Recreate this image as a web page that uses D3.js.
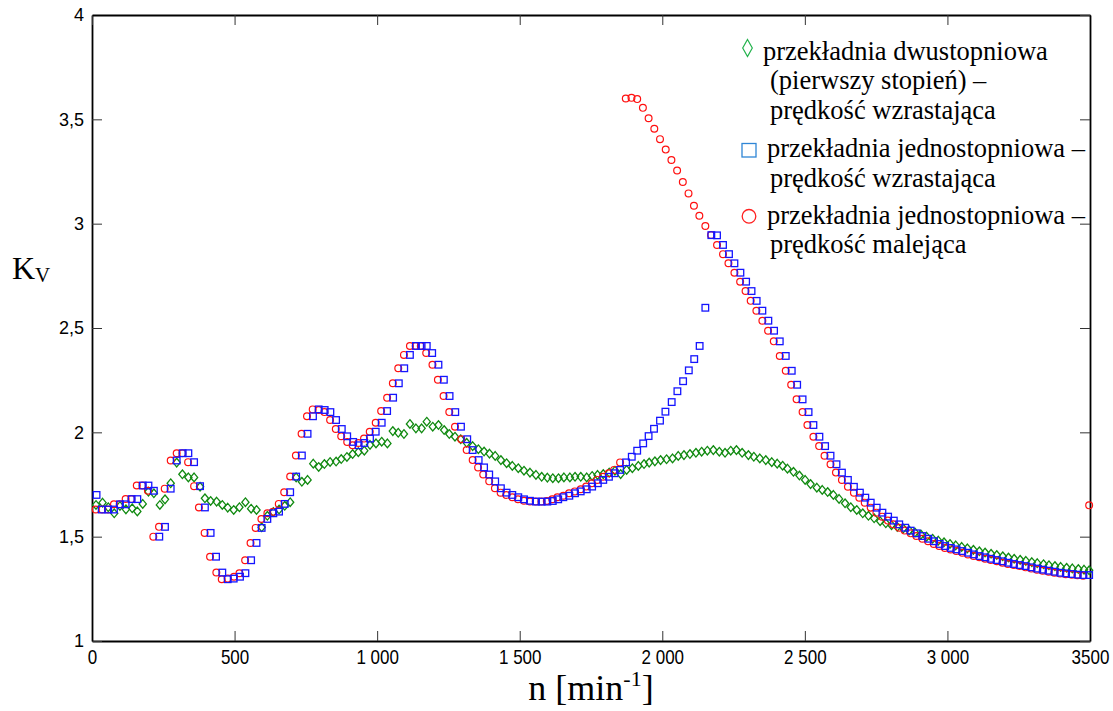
<!DOCTYPE html>
<html>
<head>
<meta charset="utf-8">
<script src="https://cdn.jsdelivr.net/npm/d3@7"></script>
<style>
body { margin: 0; background: #ffffff; }
</style>
</head>
<body>
<svg id="chart" width="1113" height="711"></svg>
<script>
//Data: two-stage gear (first stage), speed increasing
var nGreen = [14,37,57,78,98,119,141,159,178,198,217,238,256,276,297,317,338,358,379,396,
  416,437,457,476,497,517,538,558,577,595,615,636,656,676,695,716,736,756,776,795,
  815,835,856,874,894,914,934,955,975,996,1016,1036,1055,1074,1094,1115,1136,1156,1174,1195,
  1215,1235,1253,1273,1293,1314,1335,1355,1375,1394,1414,1434,1454,1474,1495,1515,1536,1557,1577,1597,
  1616,1636,1655,1676,1694,1714,1735,1754,1773,1793,1814,1834,1854,1875,1895,1916,1936,1954,1974,1994,
  2015,2036,2056,2076,2097,2118,2138,2158,2179,2200,2220,2240,2260,2280,2302,2321,2342,2363,2384,2403,
  2422,2439,2460,2481,2501,2520,2542,2561,2580,2600,2620,2641,2661,2682,2703,2723,2743,2764,2784,2804,
  2824,2845,2866,2886,2907,2927,2948,2968,2988,3009,3029,3050,3070,3091,3112,3132,3153,3173,3194,3214,
  3234,3255,3275,3296,3315,3337,3356,3377,3397,3418,3438,3459,3479,3497];
var kGreen = [1.652,1.663,1.641,1.612,1.647,1.631,1.636,1.621,1.657,1.716,1.708,1.652,1.679,1.756,1.855,1.799,1.784,1.784,1.739,1.684,
  1.671,1.668,1.652,1.639,1.628,1.641,1.665,1.634,1.628,1.545,1.600,1.618,1.630,1.648,1.665,1.784,1.763,1.772,1.850,1.834,
  1.848,1.858,1.860,1.872,1.882,1.896,1.905,1.912,1.940,1.947,1.955,1.947,2.006,1.998,1.992,2.040,2.019,2.019,2.051,2.027,
  2.035,2.011,1.992,1.979,1.967,1.950,1.934,1.919,1.908,1.898,1.887,1.867,1.852,1.839,1.828,1.816,1.807,1.796,1.787,1.783,
  1.780,1.780,1.784,1.784,1.787,1.787,1.784,1.791,1.796,1.800,1.807,1.816,1.800,1.820,1.828,1.839,1.848,1.855,1.861,1.867,
  1.871,1.875,1.887,1.891,1.896,1.902,1.907,1.912,1.915,1.907,1.902,1.912,1.915,1.902,1.891,1.883,1.875,1.867,1.857,1.850,
  1.840,1.826,1.811,1.793,1.772,1.752,1.735,1.724,1.714,1.700,1.681,1.660,1.641,1.628,1.612,1.600,1.588,1.574,1.564,1.555,
  1.547,1.539,1.530,1.520,1.510,1.500,1.490,1.481,1.473,1.465,1.458,1.451,1.444,1.437,1.430,1.424,1.418,1.412,1.406,1.400,
  1.394,1.389,1.384,1.378,1.373,1.368,1.363,1.359,1.355,1.351,1.348,1.345,1.342,1.339];

//Data: single-stage gear, speed increasing
var nBlue = [16,34,57,77,98,118,139,159,178,198,217,236,256,276,297,318,338,358,379,396,
  416,435,457,476,497,519,538,558,577,595,615,636,656,676,695,716,736,756,775,795,
  816,836,856,876,895,916,935,955,975,995,1016,1035,1056,1076,1095,1115,1136,1156,1174,1193,
  1215,1234,1254,1274,1294,1316,1335,1356,1375,1393,1414,1434,1454,1474,1495,1515,1536,1557,1577,1597,
  1616,1635,1653,1674,1694,1714,1735,1754,1774,1793,1813,1833,1852,1873,1893,1912,1933,1952,1971,1992,
  2011,2033,2053,2073,2093,2112,2131,2151,2172,2192,2213,2234,2253,2274,2294,2313,2331,2351,2372,2392,
  2412,2433,2454,2473,2492,2513,2530,2551,2571,2590,2611,2630,2651,2672,2693,2712,2731,2752,2772,2792,
  2812,2831,2852,2871,2892,2912,2933,2953,2973,2992,3012,3032,3052,3073,3093,3113,3133,3153,3173,3194,
  3214,3233,3254,3274,3295,3315,3335,3355,3376,3396,3416,3436,3457,3477,3497];
var kBlue = [1.70,1.63,1.63,1.63,1.655,1.655,1.68,1.68,1.745,1.745,1.72,1.50,1.547,1.73,1.865,1.90,1.90,1.857,1.742,1.64,
  1.518,1.404,1.328,1.296,1.299,1.308,1.325,1.387,1.47,1.542,1.585,1.612,1.62,1.657,1.713,1.788,1.889,1.993,2.077,2.11,
  2.107,2.097,2.059,2.016,1.981,1.954,1.938,1.949,1.970,2.003,2.046,2.102,2.166,2.235,2.307,2.371,2.414,2.414,2.414,2.380,
  2.324,2.252,2.174,2.097,2.027,1.967,1.915,1.867,1.832,1.798,1.765,1.732,1.711,1.700,1.689,1.679,1.672,1.668,1.668,1.668,
  1.671,1.679,1.689,1.696,1.708,1.717,1.727,1.740,1.756,1.772,1.787,1.804,1.820,1.856,1.883,1.912,1.947,1.982,2.017,2.056,
  2.099,2.145,2.197,2.245,2.297,2.351,2.414,2.597,2.945,2.944,2.898,2.854,2.810,2.765,2.722,2.677,2.630,2.583,2.535,2.487,
  2.436,2.366,2.295,2.228,2.158,2.097,2.035,1.979,1.934,1.888,1.847,1.807,1.772,1.739,1.711,1.687,1.663,1.639,1.615,1.596,
  1.577,1.559,1.543,1.529,1.516,1.503,1.490,1.478,1.465,1.455,1.446,1.439,1.431,1.423,1.415,1.407,1.401,1.394,1.388,1.382,
  1.375,1.369,1.364,1.359,1.353,1.347,1.342,1.337,1.332,1.327,1.324,1.321,1.318,1.316,1.316];

//Data: single-stage gear, speed decreasing
var nRed = [13,36,56,77,97,118,138,157,177,196,215,235,255,276,297,317,337,358,375,395,
  414,436,455,476,498,517,537,556,574,594,615,635,655,674,695,715,735,754,774,795,
  815,835,855,874,895,914,934,954,974,995,1014,1035,1055,1074,1094,1115,1135,1153,1172,1194,
  1213,1233,1253,1273,1295,1314,1335,1354,1372,1393,1413,1433,1453,1474,1494,1515,1536,1556,1576,1595,
  1614,1632,1653,1673,1693,1714,1733,1753,1772,1792,1812,1831,1852,
  1872,1892,1912,1932,1952,1972,1992,2012,2032,2052,2072,2092,2111,2130,2151,2171,
  2192,2213,2232,2253,2273,2292,2310,2330,2351,2371,2391,2412,2433,2452,2471,2492,2509,2530,2550,2569,
  2590,2609,2630,2651,2672,2691,2710,2731,2751,2771,2791,2810,2831,2850,2871,2891,2912,2932,2952,2971,
  2991,3011,3031,3052,3072,3092,3112,3132,3152,3173,3193,3212,3233,3253,3274,3294,3314,3334,3355,3375,
  3395,3415,3436,3456,3476,3497];
var kRed = [1.63,1.63,1.63,1.655,1.655,1.68,1.68,1.745,1.745,1.72,1.50,1.547,1.73,1.865,1.90,1.90,1.857,1.742,1.64,1.518,
  1.404,1.328,1.296,1.299,1.308,1.325,1.387,1.47,1.542,1.585,1.612,1.62,1.657,1.713,1.788,1.889,1.993,2.077,2.11,2.107,
  2.097,2.059,2.016,1.981,1.954,1.938,1.949,1.970,2.003,2.046,2.102,2.166,2.235,2.307,2.371,2.414,2.414,2.414,2.380,2.324,
  2.252,2.174,2.097,2.027,1.967,1.915,1.867,1.832,1.798,1.765,1.732,1.711,1.700,1.689,1.679,1.672,1.668,1.668,1.668,1.671,
  1.679,1.689,1.696,1.708,1.717,1.727,1.740,1.756,1.772,1.787,1.804,1.820,1.856,
  3.600,3.603,3.597,3.555,3.505,3.455,3.405,3.355,3.305,3.255,3.200,3.145,3.086,3.038,2.989,2.946,
  2.898,2.854,2.810,2.765,2.722,2.677,2.630,2.583,2.535,2.487,2.436,2.366,2.295,2.228,2.158,2.097,2.035,1.979,1.934,1.888,
  1.847,1.807,1.772,1.739,1.711,1.687,1.663,1.639,1.615,1.596,1.577,1.559,1.543,1.529,1.516,1.503,1.490,1.478,1.465,1.455,
  1.446,1.439,1.431,1.423,1.415,1.407,1.401,1.394,1.388,1.382,1.375,1.369,1.364,1.359,1.353,1.347,1.342,1.337,1.332,1.327,
  1.323,1.320,1.317,1.315,1.313,1.650];

//Ticks
var xTicks = [0, 500, 1000, 1500, 2000, 2500, 3000, 3500];
var xTickLabels = ["0", "500", "1 000", "1 500", "2 000", "2 500", "3 000", "3500"];
var yTicks = [1, 1.5, 2, 2.5, 3, 3.5, 4];
var yTickLabels = ["1", "1,5", "2", "2,5", "3", "3,5", "4"];

//Legend text
var legendGreen = ["przekładnia dwustopniowa", "(pierwszy stopień) –", "prędkość wzrastająca"];
var legendBlue = ["przekładnia jednostopniowa –", "prędkość wzrastająca"];
var legendRed = ["przekładnia jednostopniowa –", "prędkość malejąca"];

//Graph dimensions
var dimensions = {
    width: 1113,
    height: 711,
    margin: { top: 15, bottom: 70, right: 23, left: 92 }
};
var x0 = dimensions.margin.left;
var x1 = dimensions.width - dimensions.margin.right;
var y0 = dimensions.height - dimensions.margin.bottom;
var y1 = dimensions.margin.top;

var svg = d3.select("#chart");
svg.append("rect").attr("width", dimensions.width).attr("height", dimensions.height).attr("fill", "#ffffff");

//Scales
var xScale = d3.scaleLinear().domain([0, 3500]).range([x0, x1]);
var yScale = d3.scaleLinear().domain([1, 4]).range([y0, y1]);

//Axes (ticks inward on all four sides)
var xAxis = svg.append("g")
    .attr("transform", "translate(0," + y0 + ")")
    .call(d3.axisBottom(xScale).tickValues(xTicks).tickSizeInner(-10).tickSizeOuter(0).tickPadding(9)
        .tickFormat(function(d, i){ return xTickLabels[i]; }));
xAxis.selectAll("text")
    .attr("transform", "scale(0.85,1)")
    .style("font-family", "'Liberation Sans', Arial, sans-serif")
    .style("font-size", "20px")
    .attr("fill", "#000");

var yAxis = svg.append("g")
    .attr("transform", "translate(" + x0 + ",0)")
    .call(d3.axisLeft(yScale).tickValues(yTicks).tickSizeInner(-10).tickSizeOuter(0).tickPadding(8)
        .tickFormat(function(d, i){ return yTickLabels[i]; }));
yAxis.selectAll("text")
    .style("font-family", "'Liberation Sans', Arial, sans-serif")
    .style("font-size", "18px")
    .attr("fill", "#000");

svg.append("g")
    .attr("transform", "translate(0," + y1 + ")")
    .call(d3.axisTop(xScale).tickValues(xTicks).tickSizeInner(-10).tickSizeOuter(0).tickFormat(""));
svg.append("g")
    .attr("transform", "translate(" + x1 + ",0)")
    .call(d3.axisRight(yScale).tickValues(yTicks).tickSizeInner(-10).tickSizeOuter(0).tickFormat(""));

svg.selectAll(".domain").attr("stroke", "#000").attr("stroke-width", 1.8);
svg.selectAll(".tick line").attr("stroke", "#333").attr("stroke-width", 1);

//Green diamonds
function diamond(cx, cy, w, h){
    return "M" + cx + "," + (cy - h) + "L" + (cx + w) + "," + cy + "L" + cx + "," + (cy + h) + "L" + (cx - w) + "," + cy + "Z";
}
svg.append("g")
    .selectAll("path")
    .data(d3.zip(nGreen, kGreen))
    .enter()
    .append("path")
    .attr("d", function(d){ return diamond(xScale(d[0]), yScale(d[1]), 3.6, 4.3); })
    .attr("fill", "none")
    .attr("stroke", "#118a11")
    .attr("stroke-width", 1.3);

//Red circles
svg.append("g")
    .selectAll("circle")
    .data(d3.zip(nRed, kRed))
    .enter()
    .append("circle")
    .attr("cx", function(d){ return xScale(d[0]); })
    .attr("cy", function(d){ return yScale(d[1]); })
    .attr("r", 3.4)
    .attr("fill", "none")
    .attr("stroke", "#ff1010")
    .attr("stroke-width", 1.2);

//Blue squares
svg.append("g")
    .selectAll("rect")
    .data(d3.zip(nBlue, kBlue))
    .enter()
    .append("rect")
    .attr("x", function(d){ return xScale(d[0]) - 3.3; })
    .attr("y", function(d){ return yScale(d[1]) - 3.3; })
    .attr("width", 6.6)
    .attr("height", 6.6)
    .attr("fill", "none")
    .attr("stroke", "#1515ff")
    .attr("stroke-width", 1.3);

//Legend
var legend = svg.append("g")
    .style("font-family", "'Liberation Serif', 'Times New Roman', serif")
    .style("font-size", "26.5px")
    .attr("fill", "#000");

function legendBlock(lines, xFirst, yFirst){
    lines.forEach(function(t, i){
        legend.append("text")
            .attr("x", i === 0 ? xFirst : 770)
            .attr("y", yFirst + i * 29.4)
            .text(t);
    });
}
legendBlock(legendGreen, 763, 60);
legendBlock(legendBlue, 767, 157.3);
legendBlock(legendRed, 767, 224);

legend.append("path")
    .attr("d", diamond(747.5, 48, 4.8, 8.5))
    .attr("fill", "none")
    .attr("stroke", "#22b24c")
    .attr("stroke-width", 1.2);
legend.append("rect")
    .attr("x", 742).attr("y", 143.5).attr("width", 14).attr("height", 13.5)
    .attr("fill", "none").attr("stroke", "#2f86d6").attr("stroke-width", 1.3);
legend.append("circle")
    .attr("cx", 749).attr("cy", 216.3).attr("r", 6.8)
    .attr("fill", "none").attr("stroke", "#ff2020").attr("stroke-width", 1.3);

//X-axis title
var xTitle = svg.append("text")
    .attr("x", 591)
    .attr("y", 700)
    .attr("text-anchor", "middle")
    .style("font-family", "'Liberation Serif', 'Times New Roman', serif")
    .style("font-size", "36px")
    .attr("fill", "#000");
xTitle.append("tspan").text("n [min");
xTitle.append("tspan").attr("dy", -14).style("font-size", "22px").text("-1");
xTitle.append("tspan").attr("dy", 14).text("]");

//Y-axis title
var yTitle = svg.append("text")
    .attr("x", 12)
    .attr("y", 279)
    .style("font-family", "'Liberation Serif', 'Times New Roman', serif")
    .style("font-size", "32px")
    .attr("fill", "#000");
yTitle.append("tspan").text("K");
yTitle.append("tspan").attr("dy", 3).style("font-size", "21px").text("V");
</script>
</body>
</html>
